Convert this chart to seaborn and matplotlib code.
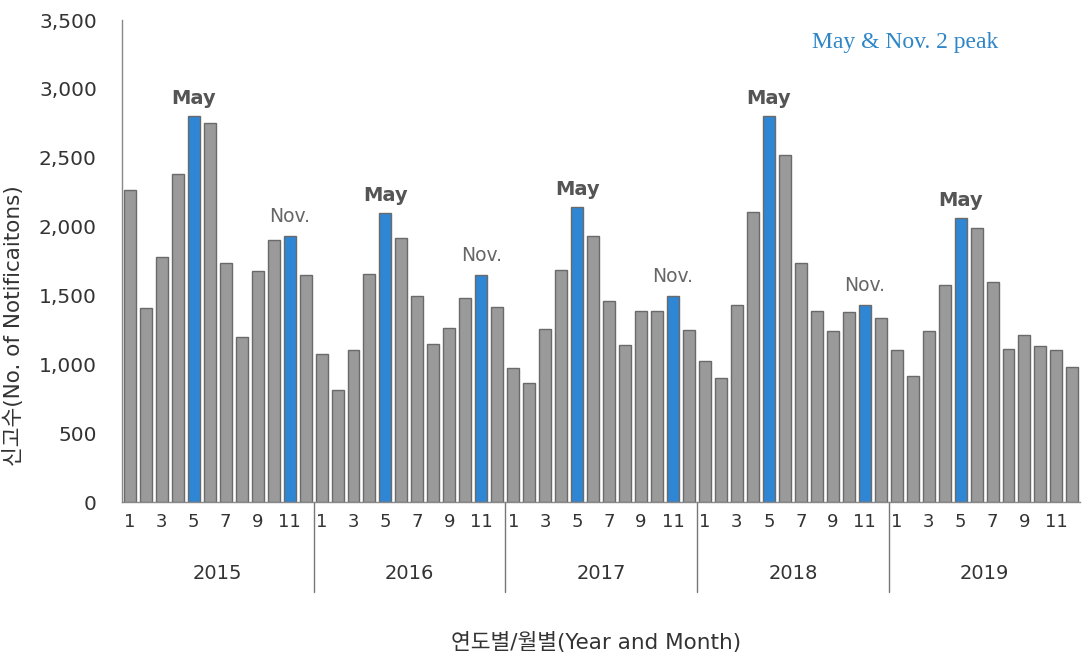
import numpy as np
import pandas as pd
import matplotlib
matplotlib.use("Agg")
import matplotlib.pyplot as plt
import matplotlib.ticker as mticker
import seaborn as sns

years = [2015, 2016, 2017, 2018, 2019]
months = list(range(1, 13))

counts_2015 = [2266, 1409, 1779, 2382, 2803, 2752, 1736, 1198, 1678, 1903, 1932, 1649]
counts_2016 = [1075, 813, 1104, 1656, 2099, 1917, 1496, 1147, 1264, 1481, 1649, 1416]
counts_2017 = [973, 864, 1256, 1685, 2142, 1932, 1460, 1140, 1387, 1387, 1496, 1249]
counts_2018 = [1024, 900, 1431, 2106, 2803, 2520, 1736, 1387, 1242, 1380, 1431, 1336]
counts_2019 = [1104, 915, 1242, 1576, 2062, 1990, 1598, 1111, 1213, 1133, 1104, 980]

# which Nov. bars are labelled (2019 has none)
nov_labels = [2015, 2016, 2017, 2018]

gray = "#9a9a9a"
blue = "#2f86d4"

all_counts = counts_2015 + counts_2016 + counts_2017 + counts_2018 + counts_2019
df = pd.DataFrame({
    "year": np.repeat(years, 12),
    "month": months * len(years),
    "count": all_counts,
})
df["pos"] = np.arange(len(df))
df["kind"] = np.where(
    (df["month"] == 5) | ((df["month"] == 11) & df["year"].isin(nov_labels)),
    "peak", "other")

sns.set_style("white")
plt.rcParams["font.family"] = ["DejaVu Sans", "Noto Sans CJK KR"]

fig = plt.figure(figsize=(10.88, 6.54), dpi=100)
ax = fig.add_axes([0.112, 0.2324, 0.881, 0.7370])

sns.barplot(data=df, x="pos", y="count", hue="kind",
            palette={"peak": blue, "other": gray}, dodge=False,
            saturation=1, width=0.75, edgecolor="#6a6a6a", linewidth=1.0,
            legend=False, ax=ax)

ax.set_xlim(-0.5, len(df) - 0.5)
ax.set_ylim(0, 3500)
ax.yaxis.set_major_locator(mticker.MultipleLocator(500))
ax.yaxis.set_major_formatter(mticker.StrMethodFormatter("{x:,.0f}"))
ax.tick_params(axis="y", labelsize=14.5, labelcolor="#333333", length=4,
               color="#888888", pad=14)

# month labels at centers, tick marks at slot boundaries
odd = df[df["month"] % 2 == 1]
ax.set_xticks(odd["pos"])
ax.set_xticklabels(odd["month"].astype(str))
ax.set_xticks(np.arange(len(df) + 1) - 0.5, minor=True)
ax.tick_params(axis="x", which="major", length=0, labelsize=13,
               labelcolor="#333333", pad=8)
ax.tick_params(axis="x", which="minor", length=5, color="#888888",
               direction="out")

sns.despine(ax=ax)
for s in ("left", "bottom"):
    ax.spines[s].set_color("#888888")
    ax.spines[s].set_linewidth(1.0)

trans = ax.get_xaxis_transform()
for i, yr in enumerate(years):
    ax.text(i * 12 + 5.5, -0.149, str(yr), transform=trans, ha="center",
            va="center", fontsize=14, color="#333333")
    if i > 0:
        ax.plot([i * 12 - 0.5, i * 12 - 0.5], [0, -0.187], transform=trans,
                color="#777777", lw=1.0, clip_on=False)

# peak labels
for _, r in df[df["month"] == 5].iterrows():
    ax.annotate("May", (r["pos"], r["count"]), xytext=(0, 6),
                textcoords="offset points", ha="center", va="bottom",
                fontsize=14, fontweight="bold", color="#555555")
for _, r in df[(df["month"] == 11) & df["year"].isin(nov_labels)].iterrows():
    ax.annotate("Nov.", (r["pos"], r["count"]), xytext=(0, 7),
                textcoords="offset points", ha="center", va="bottom",
                fontsize=13.5, color="#666666")

ax.text(0.817, 0.954, "May & Nov. 2 peak", transform=ax.transAxes,
        ha="center", va="center", fontsize=17, color="#2e86c8",
        family="Liberation Serif")

ax.set_ylabel("신고수(No. of Notificaitons)", fontsize=15.5, color="#333333")
ax.set_xlabel("연도별/월별(Year and Month)", fontsize=15.5, color="#333333")
ax.xaxis.set_label_coords(0.495, -0.27)
ax.yaxis.set_label_coords(-0.1025, 0.365)

fig.savefig("out.png", dpi=100, facecolor="white")
